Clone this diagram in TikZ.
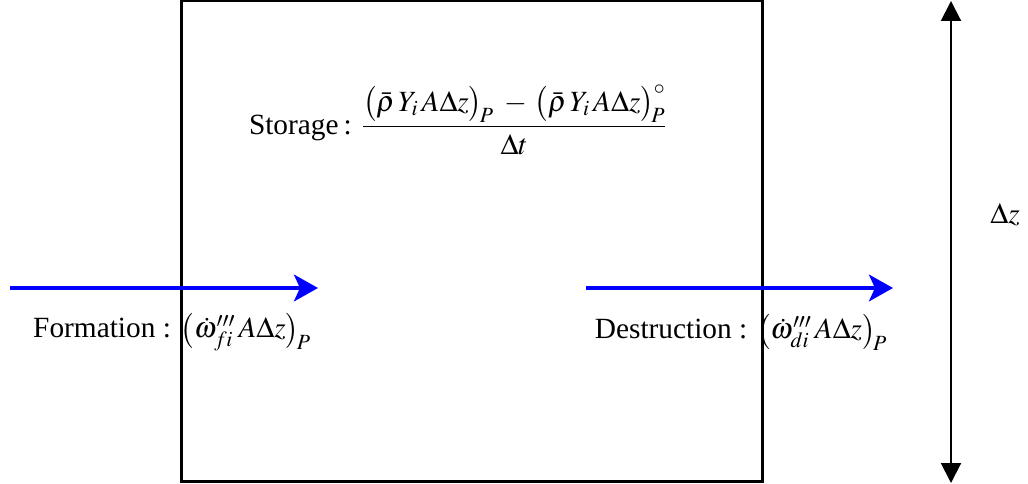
\documentclass[tikz,border=0pt]{standalone}
\usepackage{amsmath}
\usepackage{mathptmx}
\usepackage[no-math]{fontspec}
\setmainfont{Liberation Serif}
\usepackage{tikz}
\usetikzlibrary{arrows.meta,positioning}

\begin{document}
\begin{tikzpicture}[
    x=0.75pt, y=-0.75pt,
    font=\fontsize{22}{26}\selectfont,
    cell/.style={
      rectangle, draw=black, line width=2.25pt,
      minimum width=435.75pt, minimum height=360pt
    },
    flux/.style={
      -{Stealth[length=18pt, width=20pt, inset=4.5pt]},
      blue, line width=3pt
    },
    dimline/.style={
      {Triangle[length=15pt, width=15pt]}-{Triangle[length=15pt, width=15pt]},
      black, line width=1.5pt
    },
    term/.style={inner sep=0pt}
  ]
  \useasboundingbox (0,0) rectangle (1028,484);

  % --- control volume ---
  \node[cell] (cv) at (472,241) {};

  % --- storage term ---
  \node[term] (store) at (458,120)
    {Storage\,: $\displaystyle\frac{\bigl(\bar{\rho}\,Y_i\,A\Delta z\bigr)_{\!P} \;-\, \bigl(\bar{\rho}\,Y_i\,A\Delta z\bigr)^{\circ}_{\!P}}{\Delta t}$};

  % --- formation (in) ---
  \coordinate (inA) at (10,288);
  \coordinate (inB) at (318,288);
  \draw[flux] (inA) -- (inB);
  \node[term] (form) at (172,332)
    {Formation : $\bigl(\dot{\omega}'''_{fi}\,A\Delta z\bigr)_{\!P}$};

  % --- destruction (out) ---
  \coordinate (outA) at (586,288);
  \coordinate (outB) at (893,288);
  \draw[flux] (outA) -- (outB);
  \node[term] (destr) at (741,332)
    {Destruction : $\bigl(\dot{\omega}'''_{di}\,A\Delta z\bigr)_{\!P}$};

  % --- cell height ---
  \coordinate (dzTop) at (951,1);
  \coordinate (dzBot) at (951,483);
  \draw[dimline] (dzBot) -- (dzTop);
  \node[term] (dz) at (1005,215) {$\Delta z$};
\end{tikzpicture}
\end{document}
